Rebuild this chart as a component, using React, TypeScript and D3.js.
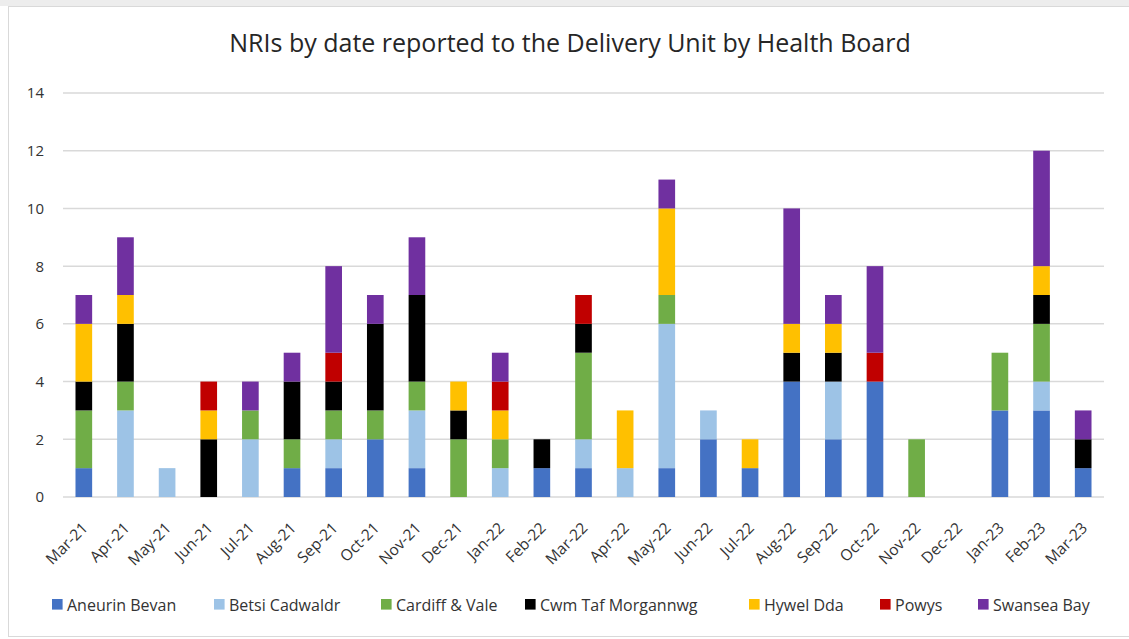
import React from "react";
import * as d3 from "d3";

const months = ["Mar-21","Apr-21","May-21","Jun-21","Jul-21","Aug-21","Sep-21","Oct-21","Nov-21","Dec-21","Jan-22","Feb-22","Mar-22","Apr-22","May-22","Jun-22","Jul-22","Aug-22","Sep-22","Oct-22","Nov-22","Dec-22","Jan-23","Feb-23","Mar-23"];
const boards = ["Aneurin Bevan","Betsi Cadwaldr","Cardiff & Vale","Cwm Taf Morgannwg","Hywel Dda","Powys","Swansea Bay"];
const aneurinBevan   = [1,0,0,0,0,1,1,2,1,0,0,1,1,0,1,2,1,4,2,4,0,0,3,3,1];
const betsiCadwaldr  = [0,3,1,0,2,0,1,0,2,0,1,0,1,1,5,1,0,0,2,0,0,0,0,1,0];
const cardiffVale    = [2,1,0,0,1,1,1,1,1,2,1,0,3,0,1,0,0,0,0,0,2,0,2,2,0];
const cwmTaf         = [1,2,0,2,0,2,1,3,3,1,0,1,1,0,0,0,0,1,1,0,0,0,0,1,1];
const hywelDda       = [2,1,0,1,0,0,0,0,0,1,1,0,0,2,3,0,1,1,1,0,0,0,0,1,0];
const powys          = [0,0,0,1,0,0,1,0,0,0,1,0,1,0,0,0,0,0,0,1,0,0,0,0,0];
const swanseaBay     = [1,2,0,0,1,1,3,1,2,0,1,0,0,0,1,0,0,4,1,3,0,0,0,4,1];
const yTicks = [0,2,4,6,8,10,12,14];
const colors = ["#4472C4","#9DC3E6","#70AD47","#000000","#FFC000","#C00000","#7030A0"];

const seriesValues = [aneurinBevan, betsiCadwaldr, cardiffVale, cwmTaf, hywelDda, powys, swanseaBay];

const W = 1129, H = 639;
const plotLeft = 63, plotRight = 1104, plotTop = 93, plotBottom = 497;
const legendX = [52, 214, 381, 525, 749, 880, 978];
const FONT = "'Open Sans', sans-serif";

export default function App() {
  const rows = months.map((m, i) => {
    const r: any = { month: m };
    boards.forEach((b, j) => (r[b] = seriesValues[j][i]));
    return r;
  });
  const stacked = d3.stack().keys(boards)(rows);
  const x = d3.scaleBand().domain(months).range([plotLeft, plotRight]).paddingInner(0.6).paddingOuter(0.3);
  const y = d3.scaleLinear().domain([0, 14]).range([plotBottom, plotTop]);

  return (
    <svg width={W} height={H} style={{ position: "absolute", left: 0, top: 0, background: "#fff" }} fontFamily={FONT}>
      <rect x={0} y={0} width={W} height={6} fill="#EDEDED" />
      <rect x={8.5} y={6.5} width={W + 10} height={630} fill="#fff" stroke="#D9D9D9" strokeWidth={1} />
      <text x={570} y={52} textAnchor="middle" fontSize={25} fill="#262626">
        NRIs by date reported to the Delivery Unit by Health Board
      </text>
      {yTicks.map((t) => (
        <g key={t}>
          <line x1={plotLeft} x2={plotRight} y1={y(t)} y2={y(t)} stroke="#D9D9D9" strokeWidth={1.5} />
          <text x={44} y={y(t)} dy="0.36em" textAnchor="end" fontSize={15} fill="#333">{t}</text>
        </g>
      ))}
      {stacked.map((s, j) => (
        <g key={boards[j]} fill={colors[j]}>
          {s.map((d, i) => {
            const h = y(d[0]) - y(d[1]);
            if (h <= 0) return null;
            return <rect key={i} x={x(months[i])} y={y(d[1])} width={x.bandwidth()} height={h} />;
          })}
        </g>
      ))}
      {months.map((m) => {
        const cx = (x(m) as number) + x.bandwidth() / 2;
        return (
          <text key={m} transform={`translate(${cx + 5},${plotBottom + 32}) rotate(-45)`} textAnchor="end" fontSize={15.5} fill="#333">
            {m}
          </text>
        );
      })}
      {boards.map((b, j) => (
        <g key={b} transform={`translate(${legendX[j]},0)`}>
          <rect x={0} y={599} width={10.6} height={10.6} fill={colors[j]} />
          <text x={15} y={610.5} fontSize={16} fill="#333">{b}</text>
        </g>
      ))}
    </svg>
  );
}
